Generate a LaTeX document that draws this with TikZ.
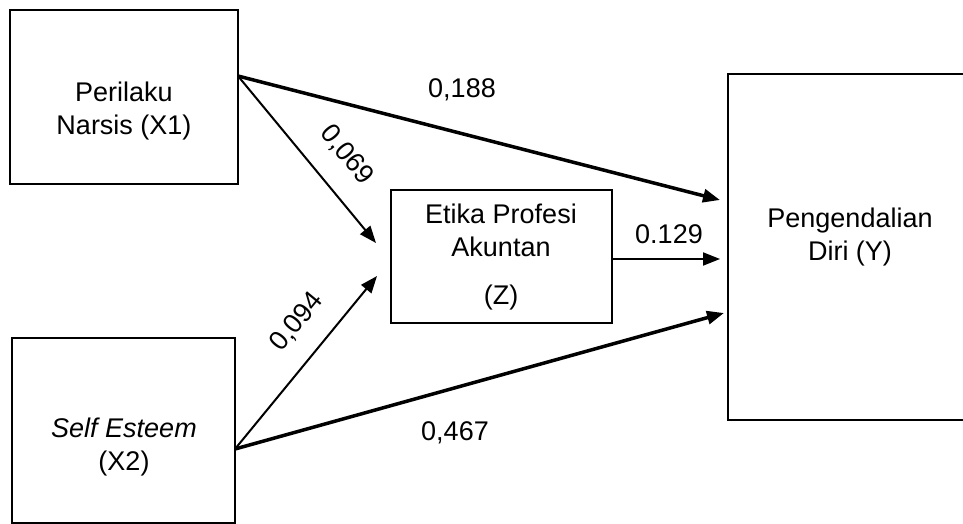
\documentclass[tikz,border=0pt]{standalone}
\usepackage{fontspec}
\setmainfont{Liberation Sans}
\usetikzlibrary{arrows.meta}
\tikzset{
  box/.style={draw=black, line width=2pt, inner sep=0pt},
  txt/.style={align=center, inner sep=0pt, font=\fontsize{27}{33}\selectfont},
  lbl/.style={inner sep=0pt, font=\fontsize{27}{33}\selectfont},
  thinarrow/.style={line width=2pt, -{Triangle[length=17pt,width=13pt]}},
  thickarrow/.style={line width=3.5pt, -{Triangle[length=17pt,width=13pt]}},
}
\begin{document}
\begin{tikzpicture}[x=1pt,y=-1pt]
\useasboundingbox (0,0) rectangle (963,523);
% boxes
\node[box, minimum width=228pt, minimum height=174pt] (x1) at (124,97) {};
\node[box, minimum width=223pt, minimum height=185pt] (x2) at (123.5,430.5) {};
\node[box, minimum width=221pt, minimum height=133pt] (z) at (501.5,256.5) {};
\node[box, minimum width=250pt, minimum height=346pt] (y) at (853,247) {};
% texts
\node[txt] (x1t) at (124,111) {Perilaku\\Narsis (X1)};
\node[txt] (x2t) at (124,447) {\textit{Self Esteem}\\(X2)};
\node[txt] (zt) at (501,230) {Etika Profesi\\Akuntan};
\node[txt] (zt2) at (501,298) {(Z)};
\node[txt] (yt) at (850,237) {Pengendalian\\Diri (Y)};
% anchor points
\coordinate (x1o) at (238,76);
\coordinate (x2o) at (235,449);
\coordinate (zo) at (612,259);
\coordinate (zin1) at (376,243);
\coordinate (zin2) at (377,276);
\coordinate (yin1) at (720,200);
\coordinate (yin2) at (720,259);
\coordinate (yin3) at (724,313);
% connectors
\draw[thickarrow] (x1o) -- (yin1);
\draw[thinarrow] (x1o) -- (zin1);
\draw[thinarrow] (x2o) -- (zin2);
\draw[thickarrow] (x2o) -- (yin3);
\draw[thinarrow] (zo) -- (yin2);
% labels
\node[lbl] (l188) at (462,90) {0,188};
\node[lbl, rotate=-50.6] (l069) at (347,155) {0,069};
\node[lbl, rotate=50.6] (l094) at (297,322) {0,094};
\node[lbl] (l129) at (669,234) {0.129};
\node[lbl] (l467) at (455,433) {0,467};
\end{tikzpicture}
\end{document}
